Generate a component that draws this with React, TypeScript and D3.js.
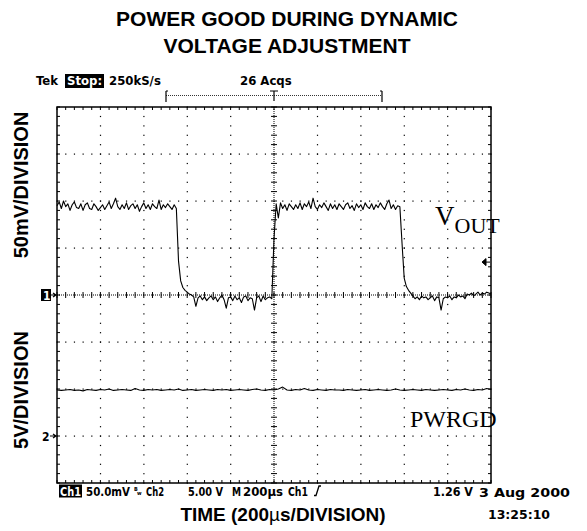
import React from 'react';
import * as d3 from 'd3';

// scope record: time in µs relative to the trigger, 10 µs per sample
const voutTimes = d3.range(-1000, 1001, 10);
// Ch1 (VOUT) in mV above the Ch1 marker
const voutValues = [
  95, 99, 92, 100, 94, 97, 90, 96, 99, 93,
  92, 97, 90, 96, 98, 92, 91, 97, 94, 90,
  93, 96, 91, 95, 99, 92, 97, 103, 94, 91,
  96, 92, 98, 91, 95, 97, 92, 96, 89, 94,
  98, 92, 96, 91, 97, 94, 92, 101, 91, 96,
  93, 97, 94, 91, 96, 92, 36, 15, 8, 5,
  3, 1, 0, -2, -12, -3, -1, -5, -2, -6,
  -3, -1, -5, -2, -7, -3, 0, -5, -14, -3,
  -2, -6, -1, -5, -3, -8, -2, -1, -6, -3,
  -4, -16, -3, -1, -7, -1, -5, -3, -2, -4,
  60, 97, 82, 98, 92, 96, 90, 97, 94, 91,
  96, 92, 98, 91, 97, 94, 99, 92, 103, 94,
  91, 96, 93, 98, 94, 90, 97, 92, 96, 91,
  97, 94, 91, 96, 98, 92, 95, 90, 97, 93,
  96, 91, 98, 94, 92, 97, 91, 96, 93, 98,
  94, 91, 97, 101, 92, 96, 91, 95, 94, 55,
  18, 9, 5, 2, -1, -4, -2, -5, -1, -3,
  -2, -5, -3, -1, -6, -2, -3, -16, -4, -2,
  -3, -1, -5, -2, -3, 0, -2, -1, -4, 1,
  0, 2, -1, 1, 3, 0, 2, 1, 3, 2, 1,
];

// Ch2 (PWRGD) in volts, 20 µs per sample
const pwrgdTimes = d3.range(-1000, 1001, 20);
const pwrgdValues = [
  4.9, 4.85, 4.9, 4.95, 4.85, 4.9, 4.8, 4.95, 4.9, 4.85,
  4.95, 4.9, 5.0, 4.85, 4.9, 4.95, 4.9, 4.85, 5.05, 4.9,
  4.85, 4.95, 4.9, 4.95, 4.85, 4.9, 4.95, 4.9, 5.0, 4.85,
  4.9, 4.95, 4.85, 4.9, 4.95, 4.9, 4.85, 4.95, 4.9, 4.95,
  4.85, 4.9, 4.95, 4.9, 4.85, 4.95, 5.0, 4.9, 4.85, 4.95,
  4.9, 5.0, 5.2, 4.9, 4.85, 4.95, 4.9, 5.05, 4.9, 4.85,
  4.95, 4.9, 4.85, 4.95, 4.9, 4.9, 4.85, 4.95, 4.9, 4.85,
  4.9, 4.95, 4.85, 4.9, 4.95, 4.9, 4.85, 4.9, 5.0, 4.9,
  4.85, 4.9, 4.95, 4.9, 4.85, 4.95, 4.9, 4.85, 4.9, 4.95,
  4.9, 4.85, 4.95, 4.9, 5.0, 4.9, 4.85, 4.95, 4.9, 5.05,
  4.95,
];

const ch1VoltsPerDiv = 50; // mV
const ch2VoltsPerDiv = 5; // V
const ch1Offset = 0; // divisions
const ch2Offset = -3;
const ch1TriggerLevel = 35; // mV, arrow on the right edge

const statusTexts = ['50.0mV', 'Ch2', '5.00 V', 'M', '200µs', 'Ch1', '1.26 V'];
const dateTexts = ['3 Aug 2000', '13:25:10'];

const W = 587;
const H = 531;
const scopeFont = "'DejaVu Sans Condensed', 'DejaVu Sans', sans-serif";
const labelFont = "'Liberation Sans', Arial, sans-serif";
const serif = "'Liberation Serif', 'Times New Roman', serif";

export default function App() {
  const x = d3.scaleLinear().domain([-1000, 1000]).range([57, 491]);
  const y = d3.scaleLinear().domain([-4, 4]).range([483, 107]);
  const y1 = (mv: number) => y(mv / ch1VoltsPerDiv + ch1Offset);
  const y2 = (v: number) => y(v / ch2VoltsPerDiv + ch2Offset);

  const line1 = d3.line<number>().x((_, i) => x(voutTimes[i])).y((d) => y1(d));
  const line2 = d3.line<number>().x((_, i) => x(pwrgdTimes[i])).y((d) => y2(d));

  const majorT = d3.range(-800, 801, 200).filter((t) => t !== 0);
  const majorDiv = d3.range(-3, 4).filter((d) => d !== 0);
  const minorT = d3.range(-1000, 1001, 40);
  const minorDiv = d3.range(-20, 21).map((d) => d / 5);

  const [x0, x1] = x.range();
  const [yb, yt] = y.range();
  const xc = x(0);
  const yc = y(0);

  // status line layout: left edge and width of each item
  const statusX = [86, 146, 188, 232, 243, 288, 433];
  const statusW = [44, 18, 35, 9, 40, 20, 40];

  return (
    <svg width={W} height={H} style={{ display: 'block', position: 'absolute', left: 0, top: 0 }}>
      <rect width={W} height={H} fill="#fff" />

      {/* title */}
      <text x={287} y={26} textAnchor="middle" fontFamily={labelFont} fontWeight="bold" fontSize={21}>
        POWER GOOD DURING DYNAMIC
      </text>
      <text x={287} y={53} textAnchor="middle" fontFamily={labelFont} fontWeight="bold" fontSize={21}>
        VOLTAGE ADJUSTMENT
      </text>

      {/* scope header */}
      <g fontFamily={scopeFont} fontWeight="bold" fontSize={13}>
        <text x={36} y={85}>Tek</text>
        <rect x={65} y={74} width={39} height={14} fill="#000" />
        <text x={67} y={85} fill="#fff">Stop:</text>
        <text x={109} y={85}>250kS/s</text>
        <text x={240} y={85}>26 Acqs</text>
      </g>
      <g stroke="#000" fill="none">
        <path d="M166,91V102M166,91h2" strokeWidth={1.2} />
        <path d="M382,91V102M382,91h-2" strokeWidth={1.2} />
        <line x1={166} x2={382} y1={95.5} y2={95.5} strokeDasharray="1 1" strokeWidth={0.8} />
        <path d={`M${xc - 4},91H${xc + 4}M${xc},91V101`} strokeWidth={1.2} />
      </g>

      {/* graticule */}
      <g fill="#000">
        {majorT.map((t) =>
          minorDiv.map((d) => <rect key={`v${t}_${d}`} x={x(t) - 0.5} y={y(d) - 0.5} width={1.2} height={1.2} />)
        )}
        {majorDiv.map((d) =>
          minorT.map((t) => <rect key={`h${d}_${t}`} x={x(t) - 0.5} y={y(d) - 0.5} width={1.2} height={1.2} />)
        )}
      </g>
      <g stroke="#000" strokeWidth={1}>
        <line x1={x0} x2={x1} y1={yc} y2={yc} strokeDasharray="1 1" />
        <line x1={xc} x2={xc} y1={yt} y2={yb} strokeDasharray="1 1" />
        {minorT.map((t) => (
          <line key={`ct${t}`} x1={x(t)} x2={x(t)} y1={yc - 3} y2={yc + 3} />
        ))}
        {minorDiv.map((d) => (
          <line key={`cd${d}`} x1={xc - 3} x2={xc + 3} y1={y(d)} y2={y(d)} />
        ))}
        {minorT.map((t) => (
          <g key={`et${t}`}>
            <line x1={x(t)} x2={x(t)} y1={yt} y2={yt + 3} />
            <line x1={x(t)} x2={x(t)} y1={yb} y2={yb - 3} />
          </g>
        ))}
        {minorDiv.map((d) => (
          <g key={`ed${d}`}>
            <line x1={x0} x2={x0 + 3} y1={y(d)} y2={y(d)} />
            <line x1={x1} x2={x1 - 3} y1={y(d)} y2={y(d)} />
          </g>
        ))}
      </g>

      {/* traces */}
      <path d={line1(voutValues) ?? ''} fill="none" stroke="#000" strokeWidth={1.1} strokeLinejoin="round" />
      <path d={line2(pwrgdValues) ?? ''} fill="none" stroke="#000" strokeWidth={1.1} strokeLinejoin="round" />

      {/* trace labels */}
      <text x={435} y={225} fontFamily={serif} fontSize={27}>
        V<tspan fontSize={22} dy={8}>OUT</tspan>
      </text>
      <text x={410} y={427} fontFamily={serif} fontSize={24}>PWRGD</text>

      {/* frame */}
      <rect x={x0} y={yt} width={x1 - x0} height={yb - yt} fill="none" stroke="#000" strokeWidth={1.5} />

      {/* channel markers */}
      <rect x={41} y={y1(0) - 6} width={10} height={12} fill="#000" />
      <text x={43} y={y1(0) + 4.5} fill="#fff" fontFamily={scopeFont} fontWeight="bold" fontSize={12}>1</text>
      <path d={`M51,${y1(0)}H56M53,${y1(0) - 2}L56,${y1(0)}L53,${y1(0) + 2}`} stroke="#000" fill="none" strokeWidth={1.2} />
      <text x={42} y={y2(0) + 4.5} fontFamily={scopeFont} fontWeight="bold" fontSize={12}>2</text>
      <path d={`M50,${y2(0)}H56M53,${y2(0) - 2}L56,${y2(0)}L53,${y2(0) + 2}`} stroke="#000" fill="none" strokeWidth={1.2} />
      <path
        d={`M${x1 - 9},${y1(ch1TriggerLevel)}l4,-3.5v7zM${x1 - 6},${y1(ch1TriggerLevel)}H${x1 - 1}`}
        fill="#000"
        stroke="#000"
        strokeWidth={1}
      />

      {/* axis titles */}
      <text
        transform={`translate(28,185) rotate(-90)`}
        textAnchor="middle"
        fontFamily={labelFont}
        fontWeight="bold"
        fontSize={20}
      >
        50mV/DIVISION
      </text>
      <text
        transform={`translate(28,390) rotate(-90)`}
        textAnchor="middle"
        fontFamily={labelFont}
        fontWeight="bold"
        fontSize={20}
      >
        5V/DIVISION
      </text>

      {/* status line */}
      <g fontFamily={scopeFont} fontWeight="bold" fontSize={12}>
        <rect x={59} y={484.5} width={23} height={13} fill="#000" />
        <text x={60} y={495.5} fill="#fff" textLength={21} lengthAdjust="spacingAndGlyphs">Ch1</text>
        {statusTexts.map((s, i) => (
          <text key={s + i} x={statusX[i]} y={495.5} textLength={statusW[i]} lengthAdjust="spacingAndGlyphs">
            {s}
          </text>
        ))}
        <text x={134} y={491} fontSize={5.5}>B</text>
        <text x={137} y={495} fontSize={5.5}>w</text>
        <path d="M314,495.5h2l3,-9.5h2" stroke="#000" fill="none" strokeWidth={1.3} />
        <text x={479} y={497} fontSize={13} textLength={91} lengthAdjust="spacingAndGlyphs">{dateTexts[0]}</text>
        <text x={488} y={519} fontSize={13} textLength={62} lengthAdjust="spacingAndGlyphs">{dateTexts[1]}</text>
      </g>
      <text x={283} y={521} textAnchor="middle" fontFamily={labelFont} fontWeight="bold" fontSize={19}>
        TIME (200<tspan fontWeight="normal">µ</tspan>s/DIVISION)
      </text>
    </svg>
  );
}
